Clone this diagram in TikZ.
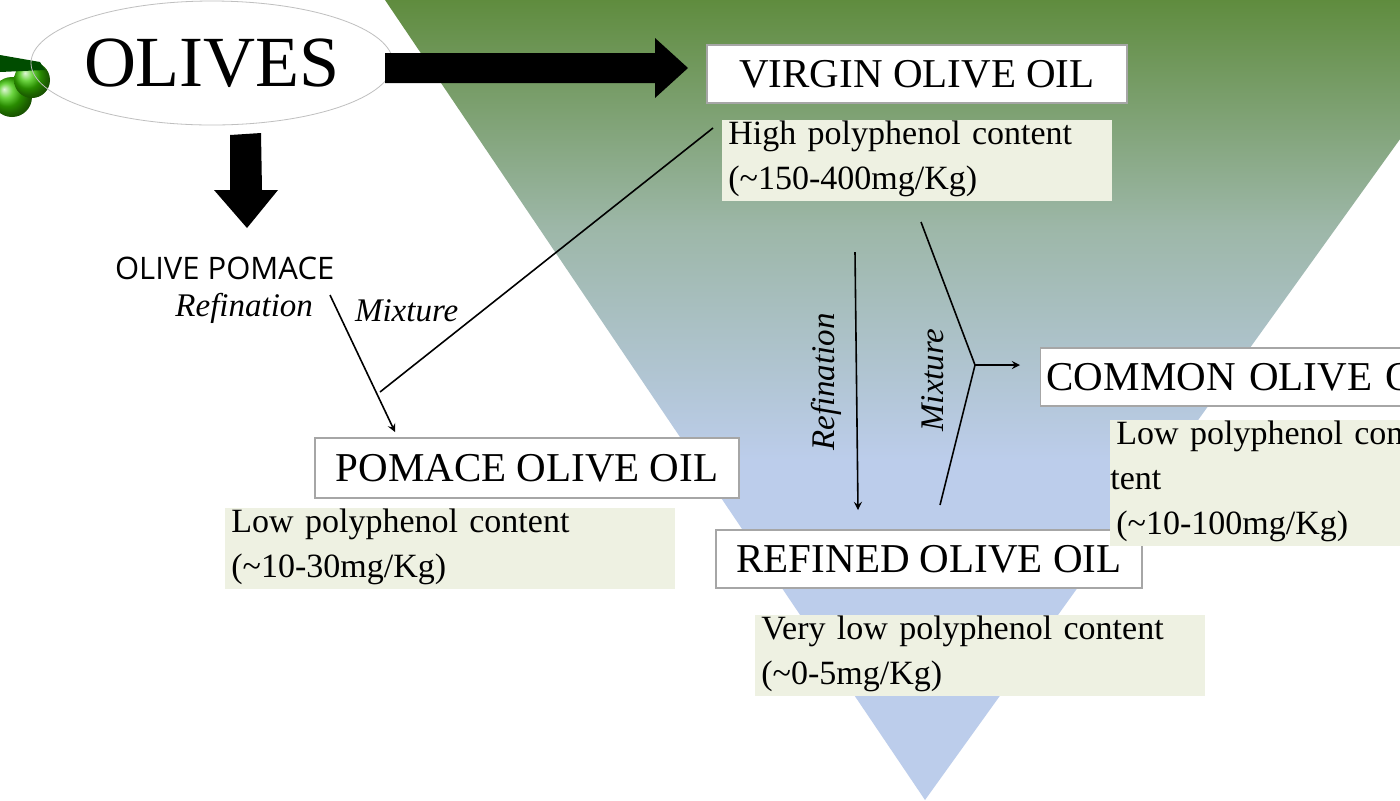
\documentclass[tikz,border=0pt]{standalone}
\usepackage{fontspec}
\setmainfont{Liberation Serif}
\newfontfamily\pomfont{Open Sans}
\usetikzlibrary{shapes.geometric}
\definecolor{tgreen}{HTML}{5E8B3C}
\definecolor{tmid}{HTML}{9DB7A8}
\definecolor{tblue}{HTML}{BCCDEB}
\definecolor{infofill}{HTML}{EEF1E2}
\tikzset{
  title/.style={draw=black!35, fill=white, line width=0.6pt, inner sep=0pt, font=\fontsize{20.5}{22}\selectfont, anchor=center},
  info/.style={fill=infofill, inner sep=0pt, font=\fontsize{17}{22.5}\selectfont, align=left, anchor=north west, text width=#1},
  thin/.style={line width=0.8pt},
}
\begin{document}
\begin{tikzpicture}[x=0.5pt,y=-0.5pt]
\useasboundingbox (0,0) rectangle (1400,800);
\clip (0,0) rectangle (1400,800);
\fill[white] (0,0) rectangle (1400,800);
% triangle
\begin{scope}
\clip (385,0) -- (1500,0) -- (925,800) -- cycle;
\shade[top color=tgreen, bottom color=tblue, middle color=tmid] (380,-5) rectangle (1500,460);
\fill[tblue] (380,459) rectangle (1500,805);
\end{scope}
% olives image
\shade[ball color=green!55!olive] (12,97) circle (20);
\shade[ball color=green!55!olive] (32,80) circle (18);
\fill[green!30!black] (0,55) -- (40,62) -- (45,70) -- (0,72) -- cycle;
% OLIVES
\node[draw=black!25, ellipse, minimum width=147pt, minimum height=62pt, inner sep=0pt,
  font=\fontsize{36}{38}\selectfont] (olives) at (212,63) {OLIVES};
% big arrows
\fill (385,53) -- (655,53) -- (655,38) -- (688,68) -- (655,98) -- (655,83) -- (385,83) -- cycle;
\fill (230,135) -- (261,133) -- (262,190) -- (278,190) -- (247,228) -- (214,190) -- (230,190) -- cycle;
% nodes
\node[title, minimum width=210pt, minimum height=29pt] (virgin) at (917,74) {VIRGIN OLIVE OIL};
\node[info=195pt] (vinfo) at (722,120) {\hspace*{3pt}High polyphenol content\\\hspace*{3pt}(\textasciitilde150-400mg/Kg)\rule[-6pt]{0pt}{6pt}};
\node[font=\pomfont\fontsize{15.5}{17}\selectfont, anchor=west] (pomace) at (108,268) {OLIVE POMACE};
\node[font=\itshape\fontsize{16.5}{18}\selectfont, anchor=east] (lref) at (320,308) {Refination};
\node[font=\itshape\fontsize{16.5}{18}\selectfont, anchor=west] (lmix) at (348,311) {Mixture};
\node[title, minimum width=212pt, minimum height=30pt] (pomoil) at (527,468) {POMACE OLIVE OIL};
\node[info=225pt] (pinfo) at (225,508) {\hspace*{3pt}Low polyphenol content\\\hspace*{3pt}(\textasciitilde10-30mg/Kg)\rule[-6pt]{0pt}{6pt}};
\node[title, minimum width=213pt, minimum height=29pt] (refined) at (929,559) {REFINED OLIVE OIL};
\node[info=225pt] (rinfo) at (755,615) {\hspace*{3pt}Very low polyphenol content\\\hspace*{3pt}(\textasciitilde0-5mg/Kg)\rule[-6pt]{0pt}{6pt}};
\node[title, anchor=west, minimum height=29pt, text width=210pt, align=left] (common) at (1040,377) {\hspace*{3pt}COMMON OLIVE OIL};
\node[info=165pt] (cinfo) at (1110,420) {\hspace*{3pt}Low polyphenol content\\\hspace*{3pt}(\textasciitilde10-100mg/Kg)\rule[-6pt]{0pt}{6pt}};
% connectors
\coordinate (p1) at (330,295);
\coordinate (p2) at (395,432);
\coordinate (jn) at (380,392);
\coordinate (vstart) at (713,128);
\draw[thin, -stealth] (p1) -- (p2);
\draw[thin] (vstart) -- (jn);
\coordinate (r1) at (855,252);
\coordinate (r2) at (858,510);
\draw[thin, -stealth] (r1) -- (r2);
\node[rotate=90, font=\itshape\fontsize{16.5}{18}\selectfont] (vref) at (826,382) {Refination};
\coordinate (m1) at (921,222);
\coordinate (m2) at (940,505);
\coordinate (mj) at (975,365);
\coordinate (m3) at (1020,365);
\draw[thin] (m1) -- (mj) -- (m2);
\draw[thin, -stealth] (mj) -- (m3);
\node[rotate=90, font=\itshape\fontsize{16.5}{18}\selectfont] (vmix) at (933,380) {Mixture};
\end{tikzpicture}
\end{document}
